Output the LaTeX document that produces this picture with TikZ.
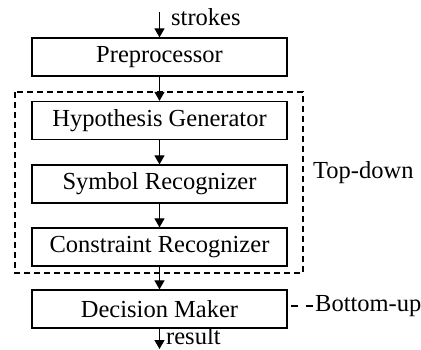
\documentclass[tikz,border=0pt]{standalone}
\usepackage{fontspec}
\setmainfont{Liberation Serif}
\usetikzlibrary{arrows.meta}
\begin{document}
\begin{tikzpicture}[x=1pt,y=-1pt,
  box/.style={draw,line width=1.2pt,minimum width=255pt,minimum height=38pt,inner sep=0pt,
    font=\fontsize{24.5}{28}\selectfont},
  lbl/.style={inner sep=0pt,font=\fontsize{24.5}{28}\selectfont},
  arr/.style={line width=1.2pt,-{Triangle[length=9pt,width=10pt]}},
  dashbox/.style={line width=1.6pt,dash pattern=on 6pt off 4pt}]
\useasboundingbox (0,0) rectangle (421,350);
\node[box] (pre) at (159.5,57) {Preprocessor};
\node[box] (hyp) at (159.5,120.5) {Hypothesis Generator};
\node[box] (sym) at (159.5,184) {Symbol Recognizer};
\node[box] (con) at (159.5,247) {Constraint Recognizer};
\node[box] (dec) at (159.5,309) {Decision Maker};
\draw[dashbox] (15,92) rectangle (303,273);
\coordinate (in) at (159.5,12);
\coordinate (out) at (159.5,349);
\draw[arr] (in) -- (pre);
\draw[arr] (pre) -- (hyp);
\draw[arr] (hyp) -- (sym);
\draw[arr] (sym) -- (con);
\draw[arr] (con) -- (dec);
\draw[arr] (dec) -- (out);
\node[lbl,anchor=base west] (strokes) at (171,26) {strokes};
\node[lbl,anchor=base west] (result) at (166,344.5) {result};
\node[lbl,anchor=base west] (td) at (313,179) {Top-down};
\node[lbl,anchor=base west] (bu) at (315,312) {Bottom-up};
\coordinate (buend) at (bu.west |- 0,306);
\draw[line width=1.2pt,dash pattern=on 0pt off 3pt on 7pt off 5pt] (dec.east |- buend) -- (buend);
\end{tikzpicture}
\end{document}
